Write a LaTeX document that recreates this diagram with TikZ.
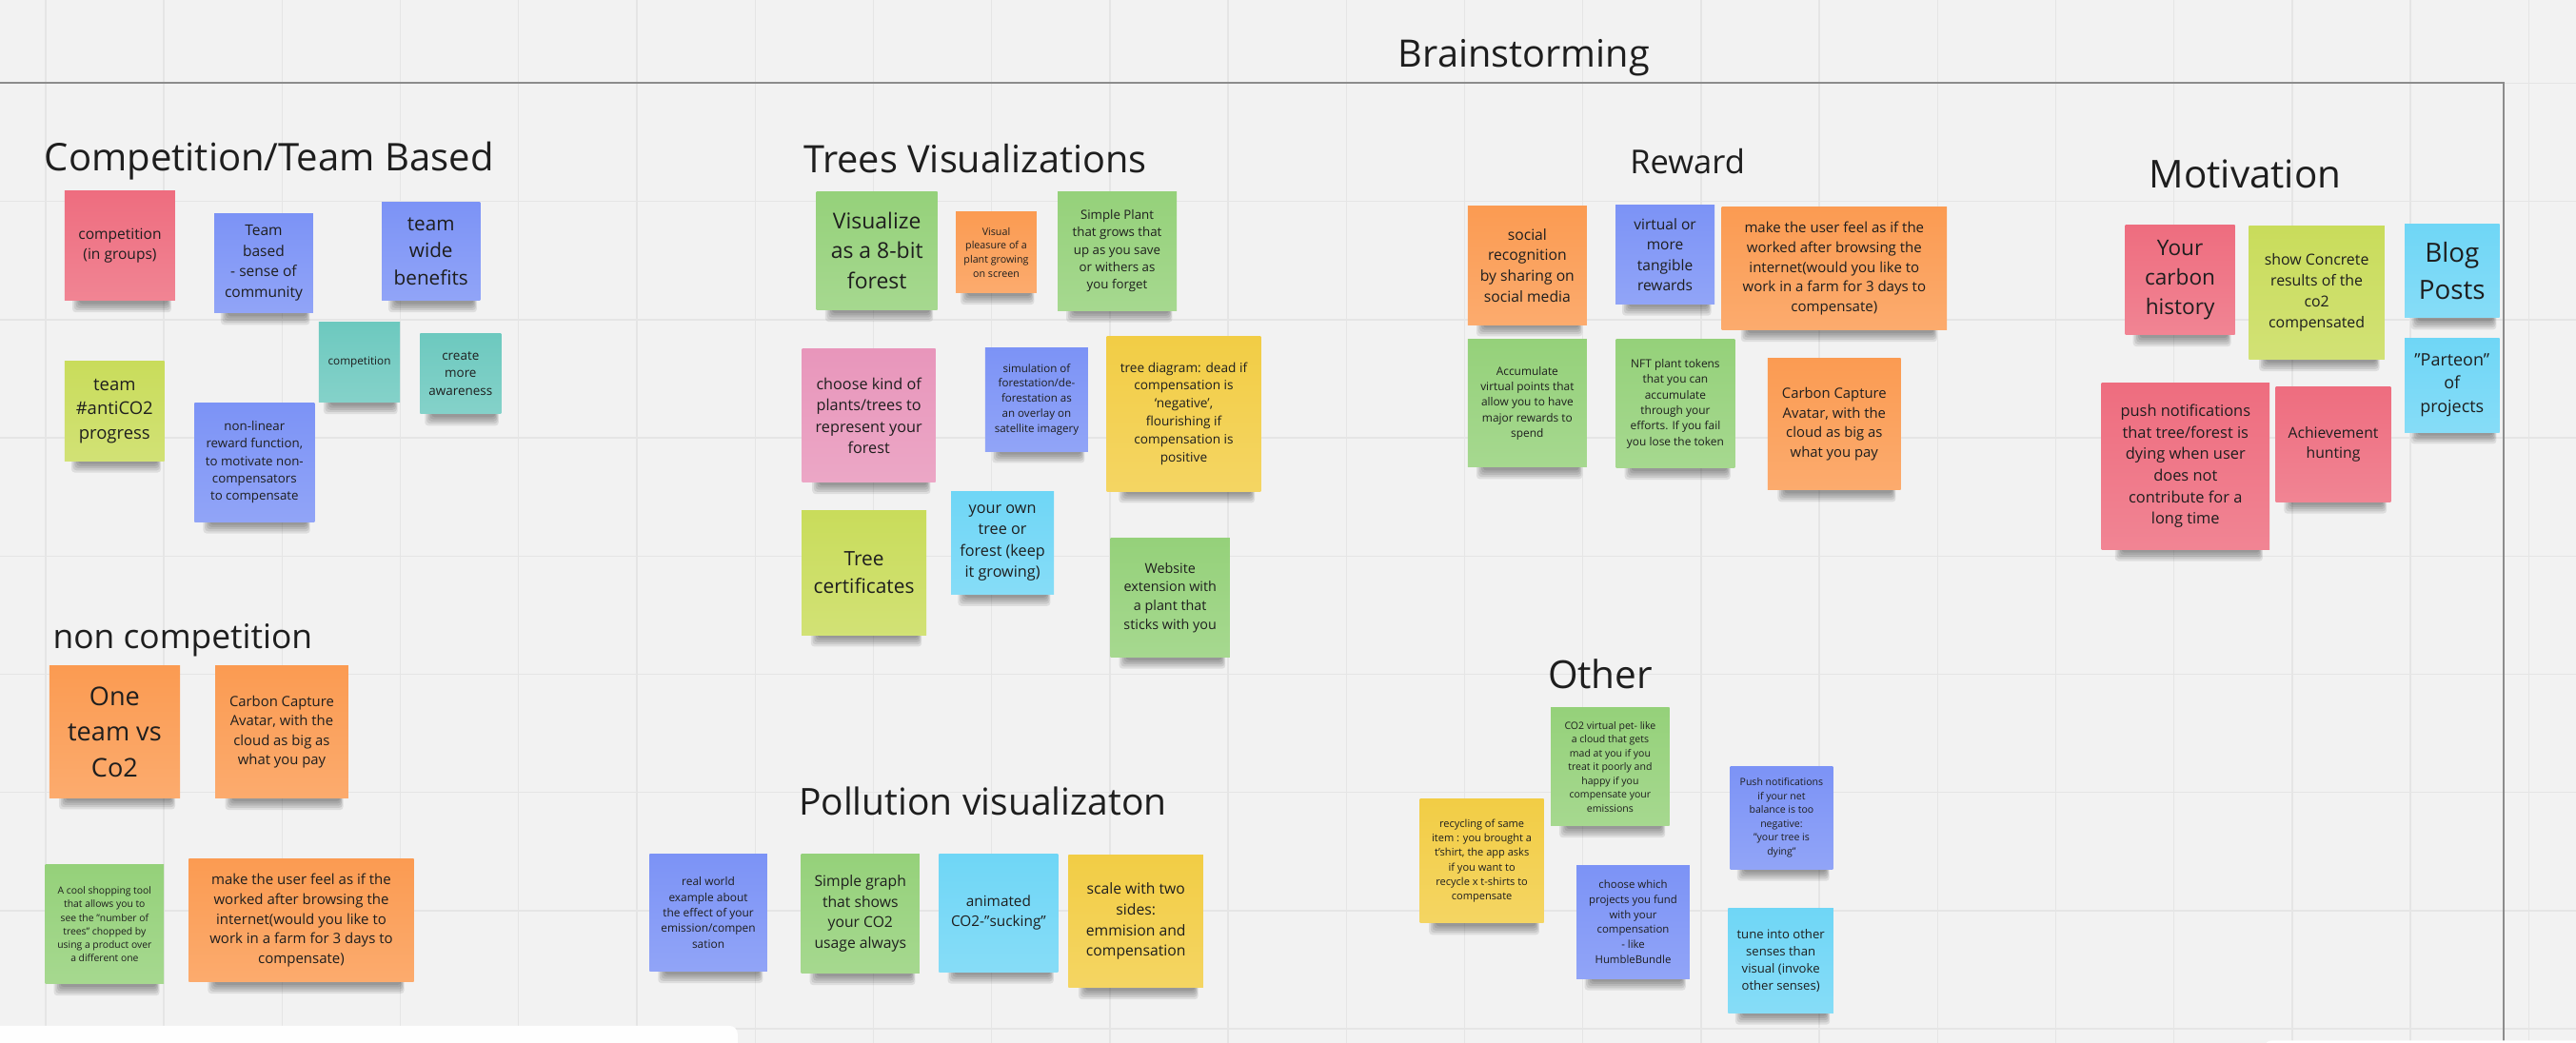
\documentclass[tikz,border=0pt]{standalone}
\usepackage{fontspec}
\setmainfont{Open Sans}
\usetikzlibrary{calc}

% board and sticky-note colours
\definecolor{board}{HTML}{F2F2F2}
\definecolor{gridc}{HTML}{E5E5E5}
\definecolor{framec}{HTML}{8C8C8C}
\definecolor{ink}{HTML}{1E1E1E}
\definecolor{nred}{HTML}{EE6D7F}
\definecolor{nblue}{HTML}{7C93F6}
\definecolor{nteal}{HTML}{6DC9BF}
\definecolor{nlime}{HTML}{C9DC5B}
\definecolor{norange}{HTML}{FB9B52}
\definecolor{ngreen}{HTML}{95D17A}
\definecolor{npink}{HTML}{E896BB}
\definecolor{nyellow}{HTML}{F2CD45}
\definecolor{ncyan}{HTML}{6FD6F6}

\tikzset{
  gridline/.style={gridc, line width=0.8bp},
  stickynote/.style={draw=none, inner sep=0pt, outer sep=0pt, align=center, text=ink},
  heading/.style={anchor=base west, inner sep=0pt, text=ink,
                  font=\fontsize{#1bp}{#1bp}\selectfont},
}

% soft shadow under a note: x1 y1 x2 y2
\newcommand\stickyshadow[4]{%
  \pgfmathsetmacro\shw{#3-#1}%
  \foreach \k in {0,1,2,3,4}{%
    \fill[black, opacity=0.085, rounded corners=2bp]
      ({#1+0.1*\shw+2-\k},{#4-3}) rectangle ({#3-0.05*\shw-1+0.5*\k},{#4+2+1.3*\k});
  }%
}

% sticky note: name, x1, y1, x2, y2, colour, font size, text
\newcommand\sticky[8]{%
  \stickyshadow{#2}{#3}{#4}{#5}%
  \pgfmathsetmacro\lsk{#7*1.38}%
  \node[stickynote, top color=#6, bottom color=#6!84!white,
        minimum width={(#4-#2)*1bp}, minimum height={(#5-#3)*1bp},
        font=\fontsize{#7bp}{\lsk bp}\selectfont]
    (#1) at ({(#2+#4)/2},{(#3+#5)/2}) {#8};%
}

\begin{document}
\begin{tikzpicture}[x=1bp,y=-1bp]
\useasboundingbox (0,0) rectangle (1568,635);
\fill[board] (0,0) rectangle (1568,635);

% background grid
\foreach \i in {0,...,21}
  \draw[gridline] ({27.8+71.97*\i},0) -- ({27.8+71.97*\i},635);
\foreach \j in {0,...,8}
  \draw[gridline] (0,{50.7+71.97*\j}) -- (1568,{50.7+71.97*\j});

% frame
\draw[framec, line width=0.9bp] (0,50.5) -- (1524,50.5) -- (1524,640);
\node[heading=23] (title) at (851,41.1) {Brainstorming};

% section headings
\node[heading=23.2] (hcomp) at (27,104.3) {Competition/Team Based};
\node[heading=23] (htrees) at (489,105) {Trees Visualizations};
\node[heading=20] (hreward) at (992,105.9) {Reward};
\node[heading=23.4] (hmotiv) at (1308,114.5) {Motivation};
\node[heading=20.5] (hnoncomp) at (32,395) {non competition};
\node[heading=22.6] (hpoll) at (486,496.5) {Pollution visualizaton};
\node[heading=23.5] (hother) at (942,419) {Other};

% Competition/Team Based
\sticky{compgroups}{39.4}{115.9}{106.6}{183}{nred}{9}{competition\\(in groups)}
\sticky{teambased}{130.4}{129.8}{190.6}{190.6}{nblue}{9}{Team\\based\\- sense of\\community}
\sticky{teamwide}{232.5}{123}{292.2}{183}{nblue}{12}{team\\wide\\benefits}
\sticky{compteal}{194}{196}{243.5}{245}{nteal}{6.8}{competition}
\sticky{awareness}{255.7}{203}{305}{252}{nteal}{7.8}{create\\more\\awareness}
\sticky{antico}{39.4}{220}{100}{280.5}{nlime}{10.7}{team\\\#antiCO2\\progress}
\sticky{nonlinear}{118.4}{245.3}{191.4}{317.6}{nblue}{7.7}{non-linear\\reward function,\\to motivate non-\\compensators\\to compensate}

% non competition
\sticky{oneteam}{30}{405.6}{109.6}{485.6}{norange}{15.7}{One\\team vs\\Co2}
\sticky{avatara}{131}{405.6}{212}{486}{norange}{8.6}{Carbon Capture\\Avatar, with the\\cloud as big as\\what you pay}
\sticky{shopping}{27.6}{526.7}{99.7}{599}{ngreen}{6}{A cool shopping tool\\that allows you to\\see the "number of\\trees" chopped by\\using a product over\\a different one}
\sticky{farma}{114.9}{523}{251.9}{597.8}{norange}{8.7}{make the user feel as if the\\worked after browsing the\\internet(would you like to\\work in a farm for 3 days to\\compensate)}

% Trees Visualizations
\sticky{eightbit}{497}{116.5}{570.6}{188.7}{ngreen}{13.3}{Visualize\\as a 8-bit\\forest}
\sticky{pleasure}{581.8}{129}{631}{178.3}{norange}{6.2}{Visual\\pleasure of a\\plant growing\\on screen}
\sticky{simpleplant}{643.8}{116.5}{716.2}{189}{ngreen}{7.7}{Simple Plant\\that grows that\\up as you save\\or withers as\\you forget}
\sticky{choosekind}{488.3}{212.5}{569.4}{293.6}{npink}{9.4}{choose kind of\\plants/trees to\\represent your\\forest}
\sticky{simulation}{599.7}{211.9}{662.3}{274.7}{nblue}{6.7}{simulation of\\forestation/de-\\forestation as\\an overlay on\\satellite imagery}
\sticky{treediag}{673.7}{204.7}{767.4}{299}{nyellow}{7.9}{tree diagram: dead if\\compensation is\\`negative',\\flourishing if\\compensation is\\positive}
\sticky{treecert}{488}{311}{563.8}{386.5}{nlime}{12.1}{Tree\\certificates}
\sticky{owntree}{578.9}{299.4}{641.5}{361.8}{ncyan}{9.4}{your own\\tree or\\forest (keep\\it growing)}
\sticky{website}{676}{327.8}{748.5}{400}{ngreen}{8.3}{Website\\extension with\\a plant that\\sticks with you}

% Pollution visualizaton
\sticky{realworld}{395.4}{520}{466.9}{591.4}{nblue}{6.9}{real world\\example about\\the effect of your\\emission/compen\\sation}
\sticky{graph}{487.7}{519.9}{559.7}{592.6}{ngreen}{9.1}{Simple graph\\that shows\\your CO2\\usage always}
\sticky{animated}{571.6}{520}{644}{591.7}{ncyan}{8.9}{animated\\CO2-"sucking"}
\sticky{scale}{650.4}{520.7}{732.4}{601.3}{nyellow}{9.1}{scale with two\\sides:\\emmision and\\compensation}

% Reward
\sticky{social}{893.5}{125.5}{965.8}{197.6}{norange}{9.1}{social\\recognition\\by sharing on\\social media}
\sticky{tangible}{983.4}{125}{1043.6}{185}{nblue}{9}{virtual or\\more\\tangible\\rewards}
\sticky{farmb}{1048}{126.3}{1185}{200.9}{norange}{8.7}{make the user feel as if the\\worked after browsing the\\internet(would you like to\\work in a farm for 3 days to\\compensate)}
\sticky{accumulate}{893.5}{206.7}{965.8}{284.5}{ngreen}{6.9}{Accumulate\\virtual points that\\allow you to have\\major rewards to\\spend}
\sticky{nft}{983.7}{206.7}{1055.9}{284.9}{ngreen}{6.9}{NFT plant tokens\\that you can\\accumulate\\through your\\efforts. If you fail\\you lose the token}
\sticky{avatarb}{1076}{217.9}{1157}{298.4}{norange}{8.6}{Carbon Capture\\Avatar, with the\\cloud as big as\\what you pay}

% Other
\sticky{pet}{944}{431}{1016.2}{502.8}{ngreen}{6.1}{CO2 virtual pet- like\\a cloud that gets\\mad at you if you\\treat it poorly and\\happy if you\\compensate your\\emissions}
\sticky{recycling}{864.3}{486.3}{939.7}{562}{nyellow}{6.4}{recycling of same\\item : you brought a\\t'shirt, the app asks\\if you want to\\recycle x t-shirts to\\compensate}
\sticky{whichproj}{959.6}{527}{1028.5}{595.8}{nblue}{6.6}{choose which\\projects you fund\\with your\\compensation\\- like\\HumbleBundle}
\sticky{pushnet}{1053.2}{466.6}{1115.6}{529.2}{nblue}{6.1}{Push notifications\\if your net\\balance is too\\negative:\\"your tree is\\dying"}
\sticky{senses}{1051.9}{553}{1116}{616.7}{ncyan}{7.6}{tune into other\\senses than\\visual (invoke\\other senses)}

% Motivation
\sticky{history}{1293.7}{137.1}{1360.3}{203.8}{nred}{13.1}{Your\\carbon\\history}
\sticky{concrete}{1368.8}{137.7}{1451.5}{218.8}{nlime}{9.2}{show Concrete\\results of the\\co2\\compensated}
\sticky{blog}{1463.7}{136.2}{1521.4}{193.5}{ncyan}{16.1}{Blog\\Posts}
\sticky{parteon}{1463.7}{205.9}{1521.4}{263.1}{ncyan}{10.4}{"Parteon"\\of\\projects}
\sticky{pushtree}{1279.2}{233.3}{1381.4}{334.5}{nred}{9.5}{push notifications\\that tree/forest is\\dying when user\\does not\\contribute for a\\long time}
\sticky{achieve}{1385.3}{235.8}{1455.2}{305.5}{nred}{9.1}{Achievement\\hunting}

% panels along the lower edge
\fill[white!97!board, rounded corners=5bp] (-10,624.6) rectangle (449,660);
\fill[white!97!board, rounded corners=5bp] (1378,633.5) rectangle (1600,660);
\end{tikzpicture}
\end{document}
